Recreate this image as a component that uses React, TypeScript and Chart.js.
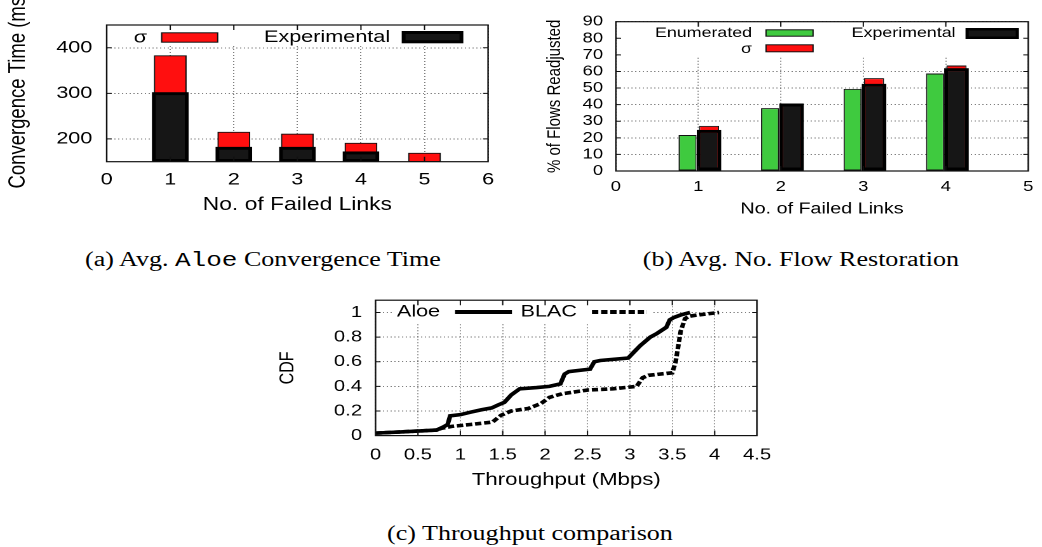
import React, { useEffect, useRef } from 'react';
import { Chart, registerables } from 'chart.js';

Chart.register(...registerables);

// horizontal stretch of the reference figure
const S = 1.27;
const SANS = "'Liberation Sans', Arial, Helvetica, sans-serif";
const SERIF = "'Liberation Serif', 'Times New Roman', serif";
const MONO = "'Liberation Mono', 'DejaVu Sans Mono', monospace";

// ---- (a) Avg. Aloe convergence time ----
const convLinks = [1, 2, 3, 4, 5];
const convExperimental: (number | null)[] = [302, 182, 182, 172, null];
const convSigma = [383, 215, 211, 191, 169];
const convXTicks = [0, 1, 2, 3, 4, 5, 6];
const convYTicks = [200, 300, 400];

// ---- (b) Avg. No. flow restoration ----
const flowLinks = [1, 2, 3, 4];
const flowEnumerated = [21.7, 37.9, 49.5, 58.8];
const flowExperimental = [24.8, 40.7, 52.6, 62.0];
const flowSigma = [27.2, 40.7, 56.0, 63.6];
const flowXTicks = [0, 1, 2, 3, 4, 5];
const flowYTicks = [0, 10, 20, 30, 40, 50, 60, 70, 80, 90];

// ---- (c) Throughput CDF ----
const aloeX = [0, 0.3, 0.72, 0.8, 0.85, 0.88, 1.0, 1.12, 1.25, 1.37, 1.45, 1.52, 1.6, 1.7, 1.9, 2.05, 2.18, 2.23, 2.28, 2.53, 2.58, 2.65, 2.98, 3.05, 3.12, 3.24, 3.32, 3.43, 3.47, 3.52, 3.6, 3.71];
const aloeY = [0.02, 0.03, 0.045, 0.07, 0.09, 0.16, 0.17, 0.19, 0.21, 0.225, 0.25, 0.27, 0.33, 0.38, 0.39, 0.40, 0.42, 0.50, 0.52, 0.54, 0.60, 0.61, 0.63, 0.68, 0.73, 0.80, 0.83, 0.88, 0.94, 0.96, 0.98, 1.0];
const blacX = [0, 0.3, 0.72, 0.78, 0.9, 1.12, 1.38, 1.48, 1.6, 1.8, 1.95, 2.05, 2.2, 2.5, 2.8, 3.08, 3.15, 3.22, 3.5, 3.54, 3.6, 3.65, 3.7, 3.8, 4.05];
const blacY = [0.02, 0.03, 0.045, 0.06, 0.075, 0.09, 0.11, 0.165, 0.2, 0.22, 0.26, 0.31, 0.34, 0.37, 0.38, 0.40, 0.47, 0.49, 0.51, 0.6, 0.85, 0.95, 0.97, 0.98, 1.0];
const cdfXTicks = [0, 0.5, 1, 1.5, 2, 2.5, 3, 3.5, 4, 4.5];
const cdfYTicks = [0, 0.2, 0.4, 0.6, 0.8, 1];

type Sample =
  | { kind: 'box'; x0: number; x1: number; y0: number; y1: number; fill: string; stroke: string; lw: number }
  | { kind: 'line'; x0: number; x1: number; y: number; lw: number; dash: number[] };
type KeyItem = { text: string; right: number; y: number; size: number; sample: Sample };
type SideTitle = { text: string; x: number; bottom: number; size: number };

function gnuplotDecor(id: string, mask: number[], items: KeyItem[], sideTitle?: SideTitle) {
  const tickLen = 5;
  return {
    id,
    afterDatasetsDraw(chart: any) {
      const { ctx, chartArea: a } = chart;
      ctx.save();
      ctx.fillStyle = '#fff';
      ctx.fillRect(mask[0], mask[1], mask[2] - mask[0], mask[3] - mask[1]);
      for (const it of items) {
        ctx.font = `${it.size}px ${SANS}`;
        ctx.fillStyle = '#000';
        ctx.textAlign = 'right';
        ctx.textBaseline = 'middle';
        ctx.fillText(it.text, it.right, it.y);
        const s = it.sample;
        if (s.kind === 'box') {
          ctx.fillStyle = s.stroke;
          ctx.fillRect(s.x0, s.y0, s.x1 - s.x0, s.y1 - s.y0);
          ctx.fillStyle = s.fill;
          ctx.fillRect(s.x0 + s.lw, s.y0 + s.lw, s.x1 - s.x0 - 2 * s.lw, s.y1 - s.y0 - 2 * s.lw);
        } else {
          ctx.strokeStyle = '#000';
          ctx.lineWidth = s.lw;
          ctx.setLineDash(s.dash);
          ctx.beginPath();
          ctx.moveTo(s.x0, s.y);
          ctx.lineTo(s.x1, s.y);
          ctx.stroke();
          ctx.setLineDash([]);
        }
      }
      if (sideTitle) {
        ctx.save();
        ctx.translate(sideTitle.x, sideTitle.bottom);
        ctx.rotate(-Math.PI / 2);
        ctx.font = `${sideTitle.size}px ${SANS}`;
        ctx.fillStyle = '#000';
        ctx.textAlign = 'left';
        ctx.textBaseline = 'middle';
        ctx.fillText(sideTitle.text, 0, 0);
        ctx.restore();
      }
      ctx.strokeStyle = '#111';
      ctx.lineWidth = 1.2;
      ctx.strokeRect(a.left, a.top, a.right - a.left, a.bottom - a.top);
      const xs = chart.scales.x;
      const ys = chart.scales.y;
      ctx.lineWidth = 1;
      ctx.beginPath();
      xs.ticks.forEach((t: any) => {
        const p = xs.getPixelForValue(t.value);
        if (p <= a.left + 0.5 || p >= a.right - 0.5) return;
        ctx.moveTo(p, a.bottom);
        ctx.lineTo(p, a.bottom - tickLen);
        ctx.moveTo(p, a.top);
        ctx.lineTo(p, a.top + tickLen);
      });
      ys.ticks.forEach((t: any) => {
        const p = ys.getPixelForValue(t.value);
        if (p <= a.top + 0.5 || p >= a.bottom - 0.5) return;
        ctx.moveTo(a.left, p);
        ctx.lineTo(a.left + tickLen / S, p);
        ctx.moveTo(a.right, p);
        ctx.lineTo(a.right - tickLen / S, p);
      });
      ctx.stroke();
      ctx.restore();
    },
  };
}

const gridOpts = { color: 'rgba(0,0,0,0.5)', lineWidth: 1, drawTicks: false };
const borderOpts = { display: false, dash: [1, 2] };
const plainLabel = (v: any) => String(v);

function makeConv(): any {
  return {
    type: 'bar',
    data: {
      datasets: [
        {
          label: 'Experimental',
          data: convLinks.map((x, i) => ({ x, y: convExperimental[i] })),
          backgroundColor: '#161616',
          borderColor: '#000',
          borderWidth: 3,
          borderSkipped: false,
          grouped: false,
          barThickness: 28.3,
          base: 150,
        },
        {
          label: 'σ',
          data: convLinks.map((x, i) => ({ x, y: convSigma[i] })),
          backgroundColor: '#ff0f0f',
          borderColor: '#111',
          borderWidth: 1,
          borderSkipped: false,
          grouped: false,
          barThickness: 25.2,
          base: 150,
        },
      ],
    },
    options: {
      animation: false,
      responsive: true,
      maintainAspectRatio: false,
      devicePixelRatio: 2,
      layout: { padding: { top: 25, right: 25.7, bottom: 0, left: 0 } },
      plugins: { legend: { display: false }, tooltip: { enabled: false } },
      scales: {
        x: {
          type: 'linear', min: 0, max: 6, offset: false,
          afterBuildTicks: (s: any) => { s.ticks = convXTicks.map((v) => ({ value: v })); },
          afterFit: (s: any) => { s.height = 63.3; },
          grid: { ...gridOpts, offset: false },
          border: borderOpts,
          ticks: { font: { size: 17 }, padding: 8, autoSkip: false, maxRotation: 0, callback: plainLabel },
          title: { display: true, text: 'No. of Failed Links', font: { size: 18 }, padding: { top: 0, bottom: 9.2 } },
        },
        y: {
          type: 'linear', min: 150, max: 450,
          afterBuildTicks: (s: any) => { s.ticks = convYTicks.map((v) => ({ value: v })); },
          afterFit: (s: any) => { s.width = 84; },
          grid: gridOpts,
          border: borderOpts,
          ticks: { font: { size: 17 }, padding: 11.3, autoSkip: false, callback: plainLabel },
          title: { display: false },
        },
      },
    },
    plugins: [
      gnuplotDecor('decorA', [98.4, 26, 382.7, 46], [
        { text: 'σ', right: 115.7, y: 37.7, size: 17, sample: { kind: 'box', x0: 126.8, x1: 171.9, y0: 32.3, y1: 42.7, fill: '#ff0f0f', stroke: '#111', lw: 1 } },
        { text: 'Experimental', right: 307.1, y: 37.5, size: 17, sample: { kind: 'box', x0: 316.3, x1: 364.8, y0: 31, y1: 43.3, fill: '#161616', stroke: '#000', lw: 3 } },
      ], { text: 'Convergence Time (ms)', x: 14.5, bottom: 188.5, size: 18.5 }),
    ],
  };
}

function makeFlow(): any {
  const cp = 0.52;
  return {
    type: 'bar',
    data: {
      datasets: [
        {
          label: 'Enumerated',
          data: flowLinks.map((x, i) => ({ x, y: flowEnumerated[i] })),
          backgroundColor: '#3fca3f',
          borderColor: '#111',
          borderWidth: 1,
          borderSkipped: false,
          stack: 'g',
          categoryPercentage: cp,
          barPercentage: 0.84,
        },
        {
          label: 'Experimental',
          data: flowLinks.map((x, i) => ({ x, y: flowExperimental[i] })),
          backgroundColor: '#161616',
          borderColor: '#000',
          borderWidth: 3,
          borderSkipped: false,
          stack: 'e',
          categoryPercentage: cp,
          barPercentage: 1.15,
        },
        {
          label: 'σ',
          data: flowLinks.map((x, i) => ({ x, y: flowSigma[i] })),
          backgroundColor: '#ff0f0f',
          borderColor: '#111',
          borderWidth: 1,
          borderSkipped: false,
          stack: 'e',
          categoryPercentage: cp,
          barPercentage: 0.94,
        },
      ],
    },
    options: {
      animation: false,
      responsive: true,
      maintainAspectRatio: false,
      devicePixelRatio: 2,
      layout: { padding: { top: 21.7, right: 7.9, bottom: 0, left: 0 } },
      plugins: { legend: { display: false }, tooltip: { enabled: false } },
      scales: {
        x: {
          type: 'linear', min: 0, max: 5, offset: false,
          afterBuildTicks: (s: any) => { s.ticks = flowXTicks.map((v) => ({ value: v })); },
          afterFit: (s: any) => { s.height = 54; },
          grid: { ...gridOpts, offset: false },
          border: borderOpts,
          ticks: { font: { size: 14.5 }, padding: 7.3, autoSkip: false, maxRotation: 0, callback: plainLabel },
          title: { display: true, text: 'No. of Failed Links', font: { size: 15.5 }, padding: { top: 0, bottom: 6.7 } },
        },
        y: {
          type: 'linear', min: 0, max: 90, stacked: false,
          afterBuildTicks: (s: any) => { s.ticks = flowYTicks.map((v) => ({ value: v })); },
          afterFit: (s: any) => { s.width = 74.8; },
          grid: gridOpts,
          border: borderOpts,
          ticks: { font: { size: 14.5 }, padding: 10, autoSkip: false, callback: plainLabel },
          title: { display: true, text: '% of Flows Readjusted', font: { size: 15 }, padding: { top: 18, bottom: 0 } },
        },
      },
    },
    plugins: [
      gnuplotDecor('decorB', [79.8, 23, 400.2, 57], [
        { text: 'Enumerated', right: 181.9, y: 33, size: 14, sample: { kind: 'box', x0: 192.4, x1: 230.4, y0: 29.3, y1: 36.7, fill: '#3fca3f', stroke: '#111', lw: 1 } },
        { text: 'σ', right: 181.9, y: 49, size: 14, sample: { kind: 'box', x0: 192.4, x1: 230.4, y0: 44.3, y1: 52.3, fill: '#ff0f0f', stroke: '#111', lw: 1 } },
        { text: 'Experimental', right: 342, y: 33, size: 14, sample: { kind: 'box', x0: 349.8, x1: 391.8, y0: 28, y1: 39, fill: '#161616', stroke: '#000', lw: 2.5 } },
      ]),
    ],
  };
}

function makeCdf(): any {
  return {
    type: 'line',
    data: {
      datasets: [
        {
          label: 'Aloe',
          data: aloeX.map((x, i) => ({ x, y: aloeY[i] })),
          borderColor: '#000',
          borderWidth: 3.6,
          pointRadius: 0,
          tension: 0,
          fill: false,
        },
        {
          label: 'BLAC',
          data: blacX.map((x, i) => ({ x, y: blacY[i] })),
          borderColor: '#000',
          borderWidth: 3.6,
          borderDash: [5, 2.2],
          pointRadius: 0,
          tension: 0,
          fill: false,
        },
      ],
    },
    options: {
      animation: false,
      responsive: true,
      maintainAspectRatio: false,
      devicePixelRatio: 2,
      layout: { padding: { top: 19, right: 33.9, bottom: 0, left: 0 } },
      plugins: { legend: { display: false }, tooltip: { enabled: false } },
      scales: {
        x: {
          type: 'linear', min: 0, max: 4.5,
          afterBuildTicks: (s: any) => { s.ticks = cdfXTicks.map((v) => ({ value: v })); },
          afterFit: (s: any) => { s.height = 64.4; },
          grid: gridOpts,
          border: borderOpts,
          ticks: { font: { size: 16 }, padding: 9.8, autoSkip: false, maxRotation: 0, callback: plainLabel },
          title: { display: true, text: 'Throughput (Mbps)', font: { size: 17.5 }, padding: { top: 0, bottom: 9.5 } },
        },
        y: {
          type: 'linear', min: 0, max: 1.1,
          afterBuildTicks: (s: any) => { s.ticks = cdfYTicks.map((v) => ({ value: v })); },
          afterFit: (s: any) => { s.width = 95.7; },
          grid: gridOpts,
          border: borderOpts,
          ticks: { font: { size: 16 }, padding: 10.6, autoSkip: false, callback: plainLabel },
          title: { display: true, text: 'CDF', font: { size: 16 }, padding: { top: 17.2, bottom: 0 } },
        },
      },
    },
    plugins: [
      gnuplotDecor('decorC', [109.4, 20, 313.4, 43], [
        { text: 'Aloe', right: 146.5, y: 32, size: 17, sample: { kind: 'line', x0: 158.3, x1: 203.1, y: 32, lw: 4, dash: [] } },
        { text: 'BLAC', right: 254.3, y: 32, size: 17, sample: { kind: 'line', x0: 266.1, x1: 309.4, y: 32, lw: 4, dash: [5, 2.2] } },
      ]),
    ],
  };
}

function ChartBox(props: { left: number; top: number; width: number; height: number; make: () => any }) {
  const ref = useRef<HTMLCanvasElement>(null);
  useEffect(() => {
    const chart = new Chart(ref.current as HTMLCanvasElement, props.make());
    return () => chart.destroy();
  }, []);
  return (
    <div style={{ position: 'absolute', left: props.left, top: props.top, width: props.width, height: props.height }}>
      <canvas ref={ref} />
    </div>
  );
}

const captionStyle = (cx: number, top: number): React.CSSProperties => ({
  position: 'absolute',
  left: cx / S - 200,
  top,
  width: 400,
  textAlign: 'center',
  fontFamily: SERIF,
  fontSize: 20.5,
  lineHeight: '24px',
  color: '#000',
  whiteSpace: 'nowrap',
});

export default function App() {
  Chart.defaults.font.family = SANS;
  Chart.defaults.color = '#000';
  return (
    <div
      style={{
        position: 'absolute',
        left: 0,
        top: 0,
        width: 1042 / S,
        height: 547,
        transform: `scaleX(${S})`,
        transformOrigin: '0 0',
        background: '#fff',
        overflow: 'hidden',
      }}
    >
      <ChartBox left={0} top={0} width={410} height={225} make={makeConv} />
      <ChartBox left={410} top={0} width={410.5} height={225} make={makeFlow} />
      <ChartBox left={200} top={280} width={430} height={220} make={makeCdf} />
      <div style={captionStyle(263, 247)}>
        (a) Avg. <span style={{ fontFamily: MONO }}>Aloe</span> Convergence Time
      </div>
      <div style={captionStyle(801, 247)}>(b) Avg. No. Flow Restoration</div>
      <div style={captionStyle(530, 521)}>(c) Throughput comparison</div>
    </div>
  );
}
